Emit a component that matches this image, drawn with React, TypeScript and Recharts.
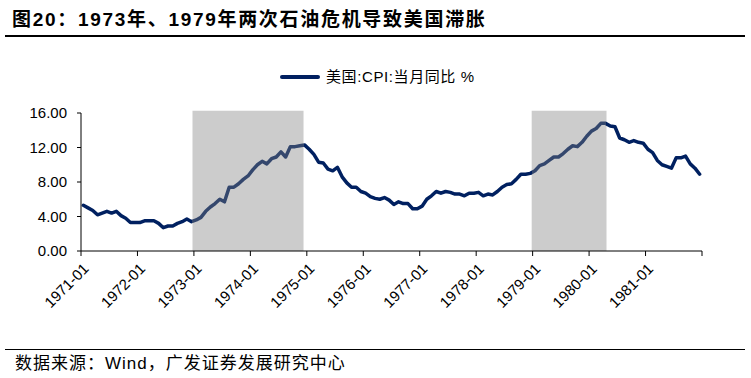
import React from "react";
import { LineChart, Line, XAxis, YAxis, ReferenceArea } from "recharts";

// 美国CPI当月同比, 1971-01 ~ 1981-12
const years = [1971, 1972, 1973, 1974, 1975, 1976, 1977, 1978, 1979, 1980, 1981];
const cpi1971 = [5.3, 5.0, 4.7, 4.2, 4.4, 4.6, 4.4, 4.6, 4.1, 3.8, 3.3, 3.3];
const cpi1972 = [3.3, 3.5, 3.5, 3.5, 3.2, 2.7, 2.9, 2.9, 3.2, 3.4, 3.7, 3.4];
const cpi1973 = [3.6, 3.9, 4.6, 5.1, 5.5, 6.0, 5.7, 7.4, 7.4, 7.8, 8.3, 8.7];
const cpi1974 = [9.4, 10.0, 10.4, 10.1, 10.7, 10.9, 11.5, 10.9, 12.1, 12.1, 12.2, 12.3];
const cpi1975 = [11.8, 11.2, 10.3, 10.2, 9.5, 9.3, 9.7, 8.6, 7.9, 7.4, 7.4, 6.9];
const cpi1976 = [6.7, 6.3, 6.1, 6.0, 6.2, 5.9, 5.4, 5.7, 5.5, 5.5, 4.9, 4.9];
const cpi1977 = [5.2, 6.0, 6.4, 6.9, 6.7, 6.9, 6.8, 6.6, 6.6, 6.4, 6.7, 6.7];
const cpi1978 = [6.8, 6.4, 6.6, 6.5, 6.9, 7.4, 7.7, 7.8, 8.3, 8.9, 8.9, 9.0];
const cpi1979 = [9.3, 9.9, 10.1, 10.5, 10.9, 10.9, 11.3, 11.8, 12.2, 12.1, 12.6, 13.3];
const cpi1980 = [13.9, 14.2, 14.8, 14.8, 14.5, 14.4, 13.1, 12.9, 12.6, 12.8, 12.6, 12.5];
const cpi1981 = [11.8, 11.4, 10.5, 10.0, 9.8, 9.6, 10.8, 10.8, 11.0, 10.1, 9.6, 8.9];
const cpiByYear = [cpi1971, cpi1972, cpi1973, cpi1974, cpi1975, cpi1976, cpi1977, cpi1978, cpi1979, cpi1980, cpi1981];

const seriesName = "美国:CPI:当月同比 %";
const yTicks = [0, 4, 8, 12, 16];
const xTicks = [0, 12, 24, 36, 48, 60, 72, 84, 96, 108, 120, 132];
// oil crisis shading, in months from 1971-01
const crisisPeriods = [
    { from: 23.7, to: 47.3 },
    { from: 95.8, to: 111.7 },
];

const NAVY = "#002060";
const NAVY_SHADED = "#34476d"; // navy seen through the grey band

const data: { x: number; cpi: number; month: string }[] = [];
years.forEach((yr, yi) => {
    cpiByYear[yi].forEach((v, m) => {
        const k = yi * 12 + m;
        data.push({ x: k + 0.5, cpi: v, month: `${yr}-${String(m + 1).padStart(2, "0")}` });
    });
});

const tickLabel = (t: number) => `${years[0] + t / 12}-01`;

const XTick = (props: any) => {
    const { x, y, payload } = props;
    if (payload.value >= 132) return null;
    const ax = x + 5;
    const ay = y + 8;
    return (
        <text x={ax} y={ay} dy="0.35em" textAnchor="end" transform={`rotate(-45, ${ax}, ${ay})`}
              fontSize={15} fill="#000" fontFamily="'Liberation Sans', Arial, sans-serif">
            {tickLabel(payload.value)}
        </text>
    );
};

// stroke gradient so the line looks covered by the translucent bands
const firstX = data[0].x;
const lastX = data[data.length - 1].x;
const frac = (v: number) => Math.min(1, Math.max(0, (v - firstX) / (lastX - firstX)));
const gradStops: { offset: number; color: string }[] = [];
crisisPeriods.forEach((p) => {
    gradStops.push({ offset: frac(p.from), color: NAVY });
    gradStops.push({ offset: frac(p.from), color: NAVY_SHADED });
    gradStops.push({ offset: frac(p.to), color: NAVY_SHADED });
    gradStops.push({ offset: frac(p.to), color: NAVY });
});

export default function App() {
    return (
        <div style={{ position: "absolute", left: 0, top: 0, width: 751, height: 378, background: "#fff", overflow: "hidden" }}>
            <div style={{
                position: "absolute", left: 12, top: 9, fontSize: 19, lineHeight: "22px", fontWeight: "bold",
                fontFamily: "'Liberation Sans', 'Noto Sans CJK SC', sans-serif", letterSpacing: 1.7, color: "#000",
                whiteSpace: "nowrap"
            }}>
                图20：1973年、1979年两次石油危机导致美国滞胀
            </div>
            <div style={{ position: "absolute", left: 5, width: 740, top: 35, height: 2, background: "#000" }}/>

            <div style={{ position: "absolute", left: 280, top: 67, display: "flex", alignItems: "center", whiteSpace: "nowrap" }}>
                <div style={{ width: 40, height: 4, background: NAVY, borderRadius: 2 }}/>
                <span style={{
                    marginLeft: 6, fontSize: 15, lineHeight: "20px", letterSpacing: 0.6, color: "#000",
                    fontFamily: "'Liberation Sans', 'Noto Sans CJK SC', sans-serif"
                }}>{seriesName}</span>
            </div>

            <div style={{ position: "absolute", left: 0, top: 40 }}>
                <LineChart width={751} height={305} data={data} margin={{ top: 73, right: 49, left: 0, bottom: 24 }}>
                    <defs>
                        <linearGradient id="cpiStroke" x1="0" y1="0" x2="1" y2="0">
                            <stop offset={0} stopColor={NAVY}/>
                            {gradStops.map((s, i) => (
                                <stop key={i} offset={s.offset} stopColor={s.color}/>
                            ))}
                            <stop offset={1} stopColor={NAVY}/>
                        </linearGradient>
                    </defs>
                    {crisisPeriods.map((p, i) => (
                        <ReferenceArea key={i} x1={p.from} x2={p.to} y1={0} y2={16.25} ifOverflow="visible"
                                       fill="#7f7f7f" fillOpacity={0.4} stroke="none"/>
                    ))}
                    <XAxis dataKey="x" type="number" domain={[0, 132]} ticks={xTicks} interval={0}
                           axisLine={{ stroke: "#000" }} tickLine={{ stroke: "#000" }} tickSize={5}
                           height={70} tick={<XTick/>}/>
                    <YAxis type="number" domain={[0, 16]} ticks={yTicks} interval={0} width={81}
                           axisLine={{ stroke: "#000" }} tickLine={{ stroke: "#000" }} tickSize={4} tickMargin={10}
                           tickFormatter={(v: number) => v.toFixed(2)}
                           tick={{ fontSize: 15, fill: "#000", fontFamily: "'Liberation Sans', Arial, sans-serif" }}/>
                    <Line name={seriesName} type="linear" dataKey="cpi" stroke="url(#cpiStroke)" strokeWidth={3.5}
                          strokeLinejoin="round" strokeLinecap="round" dot={false} isAnimationActive={false}/>
                </LineChart>
            </div>

            <div style={{ position: "absolute", left: 5, width: 740, top: 349, height: 1, background: "#000" }}/>
            <div style={{
                position: "absolute", left: 15, top: 354, fontSize: 17, lineHeight: "20px", letterSpacing: 1,
                fontFamily: "'Liberation Sans', 'Noto Sans CJK SC', sans-serif", color: "#000", whiteSpace: "nowrap"
            }}>
                数据来源：Wind，广发证券发展研究中心
            </div>
        </div>
    );
}
